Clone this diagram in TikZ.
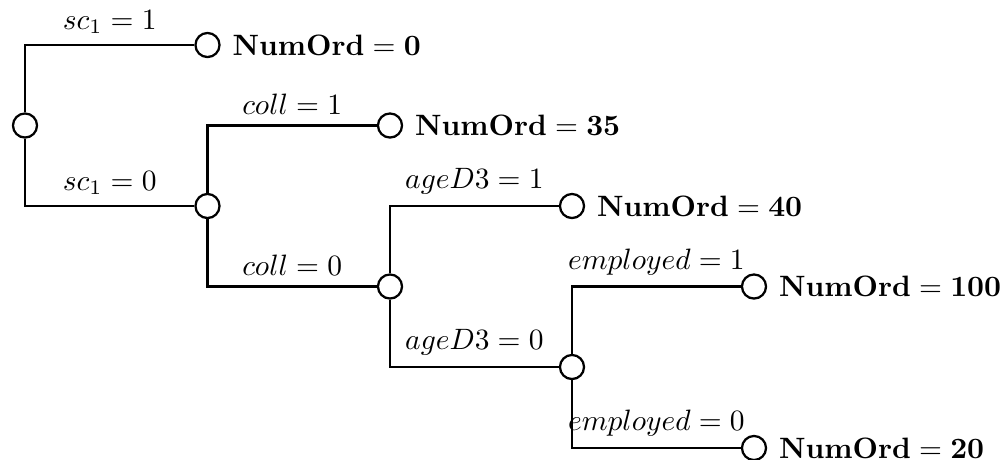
\documentclass[tikz,border=0pt]{standalone}
\begin{document}
\begin{tikzpicture}[x=0.012407cm, y=-0.012407cm,
  dot/.style={circle, draw, thick, minimum size=8.5pt, inner sep=0pt},
  edge/.style={thick},
  lab/.style={above, inner sep=3.5pt, scale=1.04, transform shape},
  leaf/.style={anchor=west, inner sep=3.2pt, xshift=0.7pt, scale=1.04, transform shape}]
\useasboundingbox (0,0) rectangle (1000,459);
\node[dot] (r) at (25,125.5) {};
\node[dot] (a) at (207.5,45) {};
\node[dot] (b) at (207.5,206) {};
\node[dot] (c) at (390,125.5) {};
\node[dot] (d) at (390,286.5) {};
\node[dot] (e) at (572,206) {};
\node[dot] (f) at (572,367) {};
\node[dot] (g) at (754,286.5) {};
\node[dot] (h) at (754,448) {};
\node[leaf] (la) at (a.east) {$\mathbf{NumOrd = 0}$};
\node[leaf] (lc) at (c.east) {$\mathbf{NumOrd = 35}$};
\node[leaf] (le) at (e.east) {$\mathbf{NumOrd = 40}$};
\node[leaf] (lg) at (g.east) {$\mathbf{NumOrd = 100}$};
\node[leaf] (lh) at (h.east) {$\mathbf{NumOrd = 20}$};
\draw[edge] (r) |- node[lab,pos=0.75]{$sc_1 = 1$} (a);
\draw[edge] (r) |- node[lab,pos=0.75]{$sc_1 = 0$} (b);
\draw[edge] (b) |- node[lab,pos=0.75]{$coll = 1$} (c);
\draw[edge] (b) |- node[lab,pos=0.75]{$coll = 0$} (d);
\draw[edge] (d) |- node[lab,pos=0.75]{$ageD3 = 1$} (e);
\draw[edge] (d) |- node[lab,pos=0.75]{$ageD3 = 0$} (f);
\draw[edge] (f) |- node[lab,pos=0.75]{$employed = 1$} (g);
\draw[edge] (f) |- node[lab,pos=0.75]{$employed = 0$} (h);
\end{tikzpicture}
\end{document}
